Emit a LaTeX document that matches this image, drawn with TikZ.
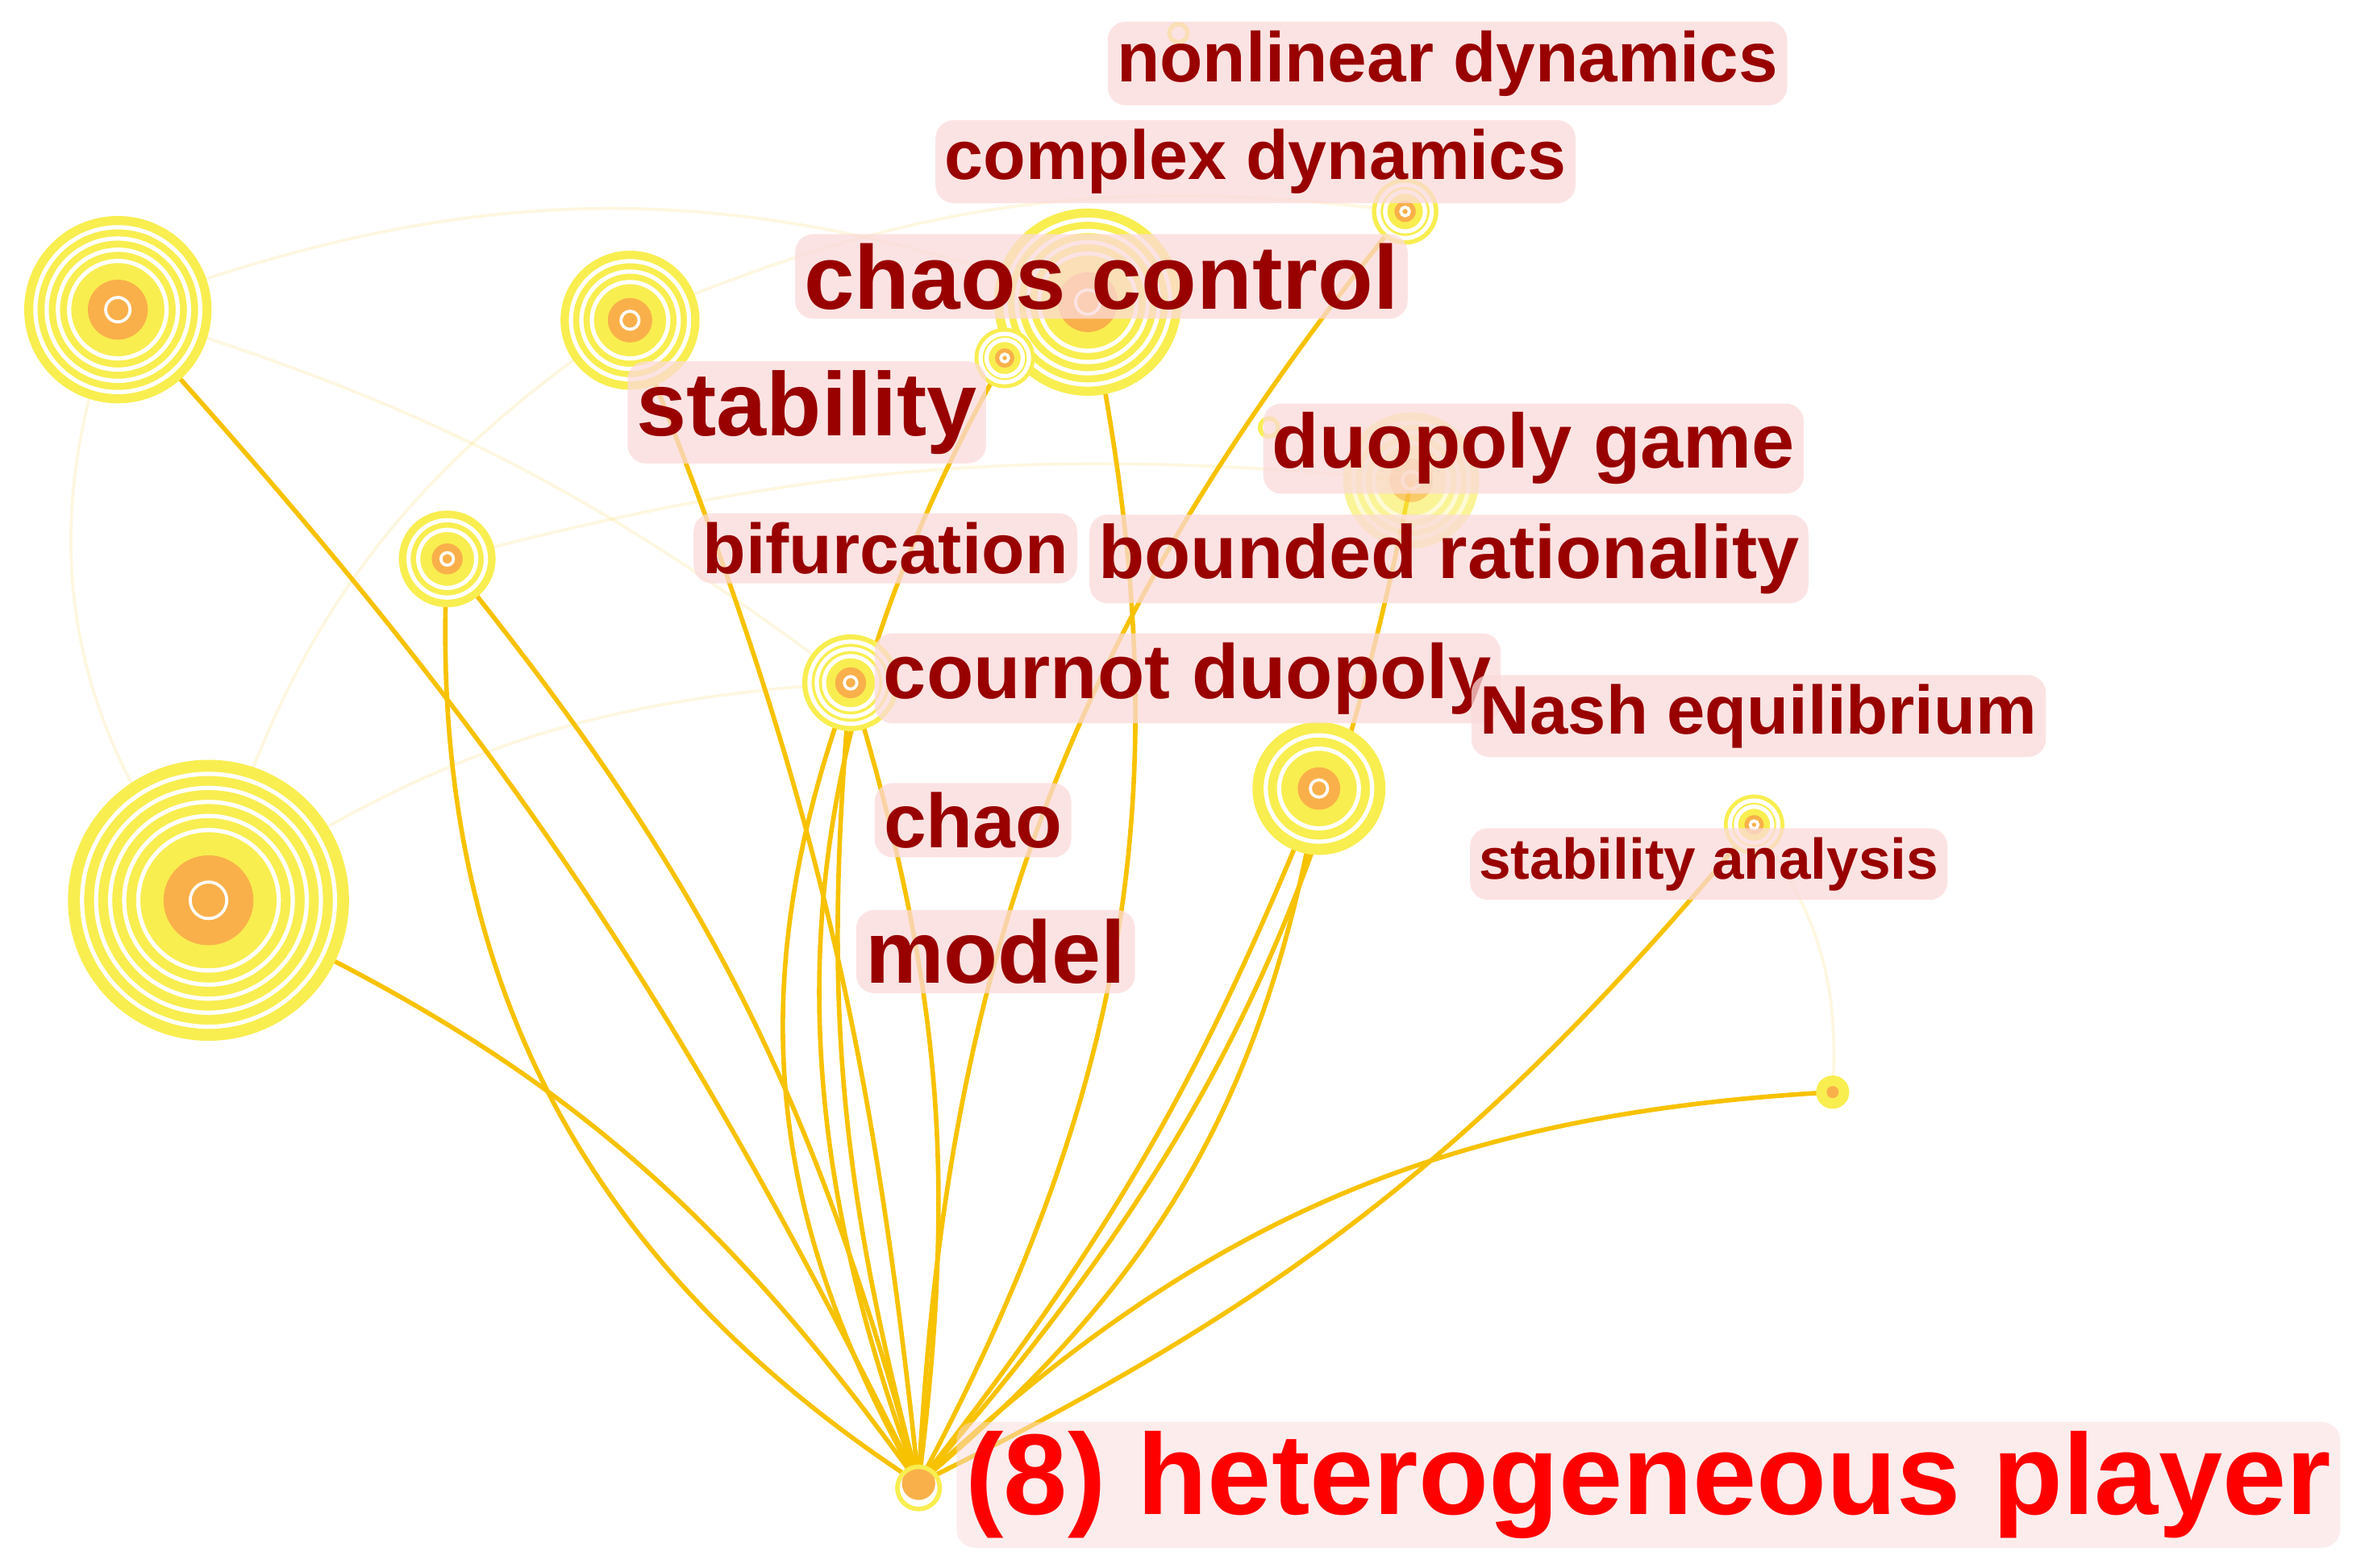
\documentclass[tikz,border=0pt]{standalone}
\usepackage{fontspec}
\setmainfont{Liberation Sans}
\definecolor{edg}{HTML}{F7C200}
\definecolor{ylw}{HTML}{F8EE50}
\definecolor{org}{HTML}{F9B04A}
\definecolor{lbl}{HTML}{990000}
\definecolor{lbg}{HTML}{FBDADA}
\newcommand\ringnd[4]{%
  \fill[ylw] (#2) circle[radius=#3];
  \foreach \k in {1,...,#4}{\draw[white,line width=1.4pt] (#2) circle[radius={#3*(1-0.6*\k/(#4+1))}];}
  \fill[org] (#2) circle[radius={#3*0.32}];
  \draw[white,line width=1pt] (#2) circle[radius={#3*0.13}];
  \coordinate (#1) at (#2);}
\begin{document}
\begin{tikzpicture}[x=0.5pt,y=-0.5pt,
  ed/.style={draw=edg,line width=1.5pt},
  fe/.style={draw=edg,line width=1pt,opacity=0.12},
  lab/.style={fill=lbg,fill opacity=0.75,text opacity=1,text=lbl,font=\bfseries,rounded corners=6pt,inner sep=3pt}]
\fill[white] (0,0) rectangle (1568,1038);
\coordinate (A) at (78,205); \coordinate (B) at (417,212); \coordinate (C) at (720,200);
\coordinate (D) at (665,237); \coordinate (E) at (930,140); \coordinate (F) at (296,370);
\coordinate (G) at (563,452); \coordinate (H) at (934,318); \coordinate (I) at (873,522);
\coordinate (J) at (138,596); \coordinate (K) at (1161,546); \coordinate (L) at (1213,723);
\coordinate (hub) at (608,982);
% faint background edges
\draw[fe] (A) to[bend left=20] (C); \draw[fe] (A) to[bend right=30] (J);
\draw[fe] (J) to[bend left=15] (G); \draw[fe] (F) to[bend left=10] (H);
\draw[fe] (B) to[bend left=15] (E); \draw[fe] (A) to[bend left=10] (G);
\draw[fe] (K) to[bend left=20] (L); \draw[fe] (J) to[bend left=20] (B);
% edges
\draw[ed] (A) to[bend left=8] (hub);
\draw[ed] (F) to[bend left=12] (hub);
\draw[ed] (F) to[bend right=30] (hub);
\draw[ed] (B) to[bend left=8] (hub);
\draw[ed] (D) to[bend right=25] (hub);
\draw[ed] (C) to[bend left=20] (hub);
\draw[ed] (E) to[bend right=18] (hub);
\draw[ed] (H) to[bend left=15] (hub);
\draw[ed] (I) to[bend left=20] (hub);
\draw[ed] (I) to[bend left=8] (hub);
\draw[ed] (J) to[bend left=15] (hub);
\draw[ed] (K) to[bend left=12] (hub);
\draw[ed] (L) to[bend right=20] (hub);
\draw[ed] (G) to[bend right=25] (hub);
\draw[ed] (G) to[bend right=10] (hub);
\draw[ed] (G) to[bend left=12] (hub);
% nodes
\ringnd{a}{78,205}{62}{4}
\ringnd{b}{417,212}{46}{3}
\ringnd{c}{720,200}{62}{4}
\ringnd{d}{665,237}{20}{2}
\ringnd{e}{930,140}{22}{2}
\ringnd{f}{296,370}{32}{2}
\ringnd{g}{563,452}{32}{3}
\begin{scope}[opacity=0.6]\ringnd{h}{934,318}{45}{3}\end{scope}
\ringnd{i}{873,522}{44}{2}
\ringnd{j}{138,596}{93}{5}
\ringnd{k}{1161,546}{20}{2}
\fill[ylw] (L) circle[radius=11]; \fill[org] (L) circle[radius=4];
\fill[org] (hub) circle[radius=11]; \draw[ylw,line width=1.5pt] (608,985) circle[radius=14];
\draw[ylw,line width=1.5pt] (780,22) circle[radius=6];
\draw[ylw,line width=1.5pt] (840,283) circle[radius=6];
% labels
\node[lab,font=\bfseries\fontsize{23.3}{26}\selectfont] (t1) at (958,42) {nonlinear dynamics};
\node[lab,font=\bfseries\fontsize{23}{26}\selectfont] (t2) at (831,107) {complex dynamics};
\node[lab,font=\bfseries\fontsize{30}{33}\selectfont] (t3) at (729,183) {chaos control};
\node[lab,font=\bfseries\fontsize{29.8}{33}\selectfont] (t4) at (534,273) {stability};
\node[lab,font=\bfseries\fontsize{25.5}{28}\selectfont] (t5) at (1015,297) {duopoly game};
\node[lab,font=\bfseries\fontsize{25}{28}\selectfont] (t6) at (959,370) {bounded rationality};
\node[lab,font=\bfseries\fontsize{23.4}{26}\selectfont] (t7) at (586,363) {bifurcation};
\node[lab,font=\bfseries\fontsize{25.5}{28}\selectfont] (t8) at (786,449) {cournot duopoly};
\node[lab,font=\bfseries\fontsize{22.7}{26}\selectfont] (t9) at (1164,474) {Nash equilibrium};
\node[lab,font=\bfseries\fontsize{25.3}{28}\selectfont] (t10) at (644,543) {chao};
\node[lab,font=\bfseries\fontsize{29.3}{33}\selectfont] (t11) at (659,630) {model};
\node[lab,font=\bfseries\fontsize{19}{22}\selectfont] (t12) at (1131,572) {stability analysis};
\node[lab,text=red,fill opacity=0.5,font=\bfseries\fontsize{38}{42}\selectfont] (t13) at (1091,983) {(8) heterogeneous player};
\end{tikzpicture}
\end{document}
